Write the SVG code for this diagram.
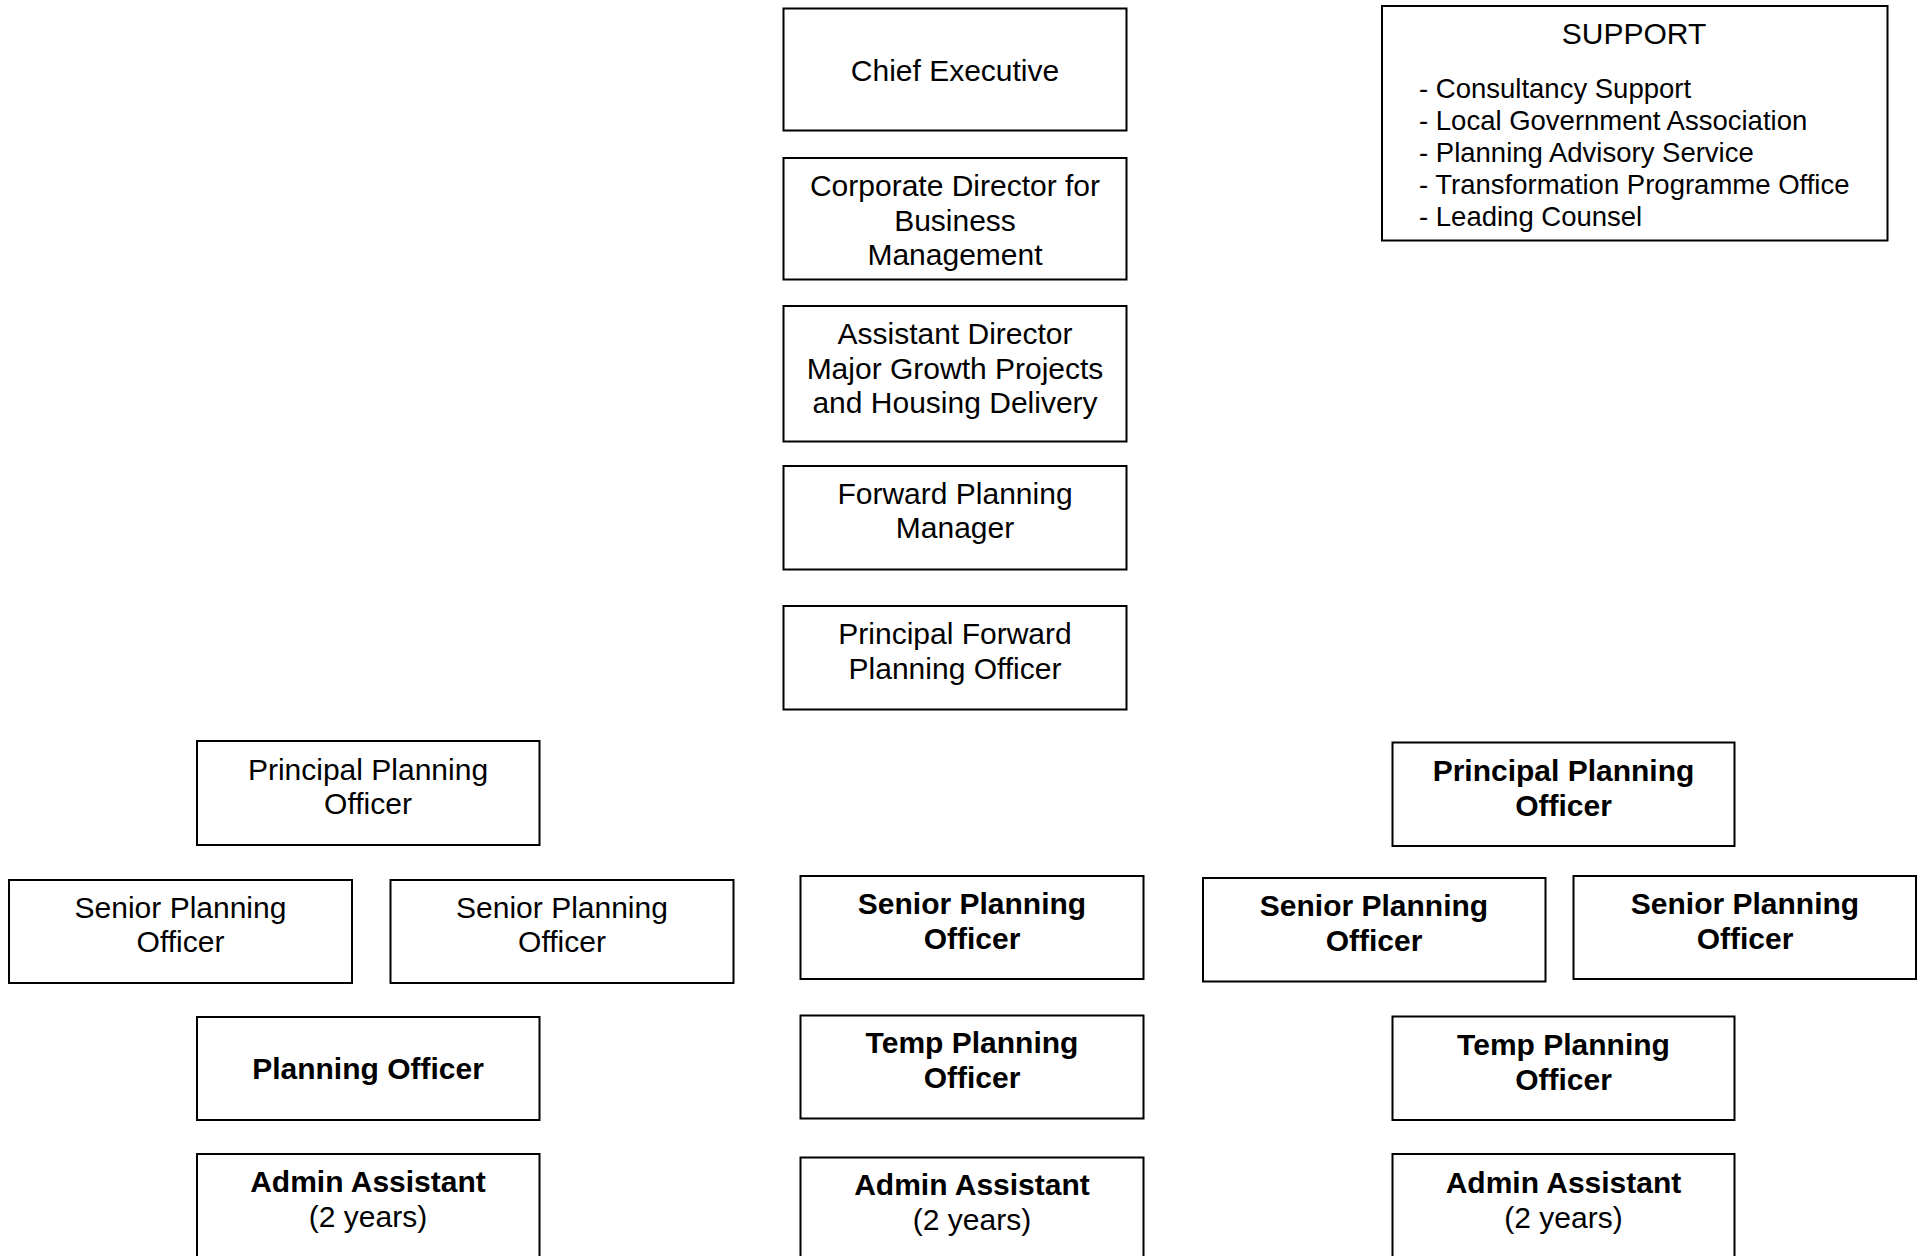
<svg xmlns="http://www.w3.org/2000/svg" width="1923" height="1256" viewBox="0 0 1923 1256">
<style>
rect{fill:#fff;stroke:#000;stroke-width:2}
text{font-family:"Liberation Sans",Arial,sans-serif;font-size:30px;fill:#000;text-anchor:middle}
.b{font-weight:bold}
.l{font-size:27.5px;text-anchor:start}
</style>
<rect x="0" y="0" width="1923" height="1256" style="stroke:none"/>
<g id="chief-executive"><rect x="783.5" y="8.5" width="343" height="122"/><text x="955" y="80.5">Chief Executive</text></g>
<g id="corporate-director"><rect x="783.5" y="158" width="343" height="121.5"/><text x="955" y="196">Corporate Director for</text><text x="955" y="230.5">Business</text><text x="955" y="265">Management</text></g>
<g id="assistant-director"><rect x="783.5" y="306" width="343" height="135.5"/><text x="955" y="344">Assistant Director</text><text x="955" y="378.5">Major Growth Projects</text><text x="955" y="412.5">and Housing Delivery</text></g>
<g id="forward-planning-manager"><rect x="783.5" y="466" width="343" height="103.5"/><text x="955" y="503.5">Forward Planning</text><text x="955" y="537.5">Manager</text></g>
<g id="principal-forward-planning-officer"><rect x="783.5" y="606" width="343" height="103.5"/><text x="955" y="644">Principal Forward</text><text x="955" y="678.5">Planning Officer</text></g>
<g id="support"><rect x="1382" y="6" width="505.5" height="234.5"/><text x="1634" y="43.5">SUPPORT</text>
<text class="l" x="1419" y="98">- Consultancy Support</text>
<text class="l" x="1419" y="130">- Local Government Association</text>
<text class="l" x="1419" y="162">- Planning Advisory Service</text>
<text class="l" x="1419" y="194">- Transformation Programme Office</text>
<text class="l" x="1419" y="226">- Leading Counsel</text></g>
<g id="left-principal"><rect x="197" y="741" width="342.5" height="104"/><text x="368" y="779.5">Principal Planning</text><text x="368" y="813.5">Officer</text></g>
<g id="left-senior-1"><rect x="9" y="880" width="343" height="103"/><text x="180.5" y="917.5">Senior Planning</text><text x="180.5" y="951.5">Officer</text></g>
<g id="left-senior-2"><rect x="390.5" y="880" width="343" height="103"/><text x="562" y="917.5">Senior Planning</text><text x="562" y="951.5">Officer</text></g>
<g id="left-planning-officer"><rect x="197" y="1017" width="342.5" height="103"/><text class="b" x="368" y="1079">Planning Officer</text></g>
<g id="left-admin"><rect x="197" y="1154" width="342.5" height="120"/><text class="b" x="368" y="1192">Admin Assistant</text><text x="368" y="1226.5">(2 years)</text></g>
<g id="mid-senior"><rect x="800.5" y="876" width="343" height="103"/><text class="b" x="972" y="914">Senior Planning</text><text class="b" x="972" y="948.5">Officer</text></g>
<g id="mid-temp"><rect x="800.5" y="1015.5" width="343" height="103"/><text class="b" x="972" y="1053">Temp Planning</text><text class="b" x="972" y="1087.5">Officer</text></g>
<g id="mid-admin"><rect x="800.5" y="1157.5" width="343" height="120"/><text class="b" x="972" y="1194.5">Admin Assistant</text><text x="972" y="1229.5">(2 years)</text></g>
<g id="right-principal"><rect x="1392.5" y="742.5" width="342" height="103.5"/><text class="b" x="1563.5" y="780.5">Principal Planning</text><text class="b" x="1563.5" y="815.5">Officer</text></g>
<g id="right-senior-1"><rect x="1203" y="878" width="342.5" height="103.5"/><text class="b" x="1374" y="916">Senior Planning</text><text class="b" x="1374" y="950.5">Officer</text></g>
<g id="right-senior-2"><rect x="1573.5" y="876" width="342.5" height="103"/><text class="b" x="1745" y="914">Senior Planning</text><text class="b" x="1745" y="948.5">Officer</text></g>
<g id="right-temp"><rect x="1392.5" y="1016.5" width="342" height="103.5"/><text class="b" x="1563.5" y="1055">Temp Planning</text><text class="b" x="1563.5" y="1089.5">Officer</text></g>
<g id="right-admin"><rect x="1392.5" y="1154" width="342" height="120"/><text class="b" x="1563.5" y="1193">Admin Assistant</text><text x="1563.5" y="1227.5">(2 years)</text></g>
<g id="connectors"></g>
</svg>
